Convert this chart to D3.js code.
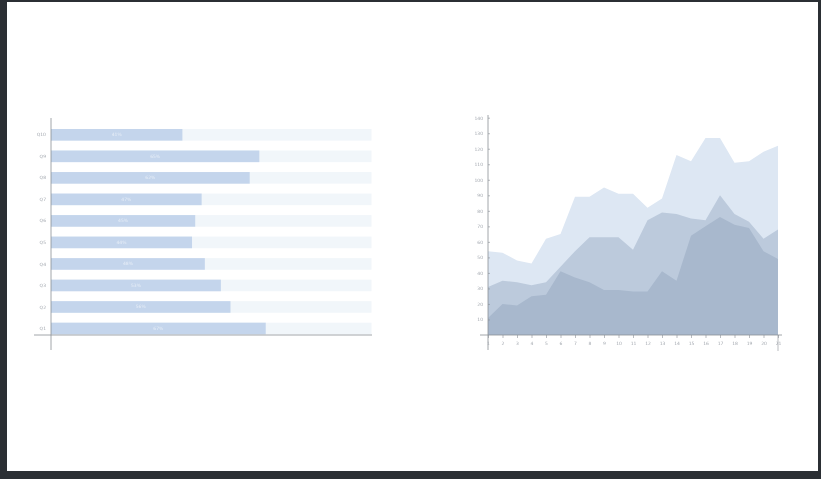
<!DOCTYPE html>
<html>
<head>
<meta charset="utf-8">
<script src="https://cdn.jsdelivr.net/npm/d3@7"></script>
<style>
  html, body { margin: 0; padding: 0; background: #2b2f34; }
  svg { display: block; filter: blur(0.4px); }
  text { font-family: "DejaVu Sans", sans-serif; }
</style>
</head>
<body>
<div id="chart"></div>
<script>
// bar chart data (top to bottom)
const barCategories = ["Q10", "Q9", "Q8", "Q7", "Q6", "Q5", "Q4", "Q3", "Q2", "Q1"];
const barValues = [41, 65, 62, 47, 45, 44, 48, 53, 56, 67];
const barMax = 100;

// area chart data
const areaLabels = ["1", "2", "3", "4", "5", "6", "7", "8", "9", "10", "11",
                    "12", "13", "14", "15", "16", "17", "18", "19", "20", "21"];
const seriesTop = [54, 53, 48, 46, 62, 65, 89, 89, 95, 91, 91, 82, 88, 116, 112, 127, 127, 111, 112, 118, 122];
const seriesMid = [31, 35, 34, 32, 34, 44, 54, 63, 63, 63, 55, 74, 79, 78, 75, 74, 90, 78, 73, 62, 68];
const seriesLow = [11, 20, 19, 25, 26, 41, 37, 34, 29, 29, 28, 28, 41, 35, 64, 70, 76, 71, 69, 54, 49];
const yTicks = [10, 20, 30, 40, 50, 60, 70, 80, 90, 100, 110, 120, 130, 140];

const W = 821, H = 479;
const svg = d3.select("#chart").append("svg")
    .attr("width", W)
    .attr("height", H);

// white sheet inside the dark frame
svg.append("rect")
    .attr("x", 7).attr("y", 2)
    .attr("width", 811).attr("height", 469)
    .attr("fill", "#ffffff");

const axisColor = "#8a8f96";
const labelColor = "#a4a9b0";

// ---------- bar chart ----------
const bx = d3.scaleLinear().domain([0, barMax]).range([51, 371.5]);
const by = d3.scaleBand()
    .domain(barCategories)
    .range([129, 334.3])
    .paddingInner(0.46)
    .paddingOuter(0);

const barG = svg.append("g");

barG.selectAll(".track")
    .data(barCategories)
    .enter()
    .append("rect")
    .attr("x", bx(0))
    .attr("y", d => by(d))
    .attr("width", bx(barMax) - bx(0))
    .attr("height", by.bandwidth())
    .attr("fill", "#f1f6fa");

barG.selectAll(".bar")
    .data(barValues)
    .enter()
    .append("rect")
    .attr("x", bx(0))
    .attr("y", (d, i) => by(barCategories[i]))
    .attr("width", d => bx(d) - bx(0))
    .attr("height", by.bandwidth())
    .attr("fill", "#c4d5ec");

barG.selectAll(".val")
    .data(barValues)
    .enter()
    .append("text")
    .attr("x", d => (bx(d) + bx(0)) / 2)
    .attr("y", (d, i) => by(barCategories[i]) + by.bandwidth() / 2 + 1.5)
    .attr("text-anchor", "middle")
    .attr("font-size", "4.5px")
    .attr("fill", "#ffffff")
    .attr("fill-opacity", 0.6)
    .text(d => d + "%");

barG.selectAll(".cat")
    .data(barCategories)
    .enter()
    .append("text")
    .attr("x", 46)
    .attr("y", d => by(d) + by.bandwidth() / 2 + 1.6)
    .attr("text-anchor", "end")
    .attr("font-size", "4.5px")
    .attr("fill", labelColor)
    .text(d => d);

// axes lines, crossing with overshoot
barG.append("line")
    .attr("x1", 51).attr("x2", 51)
    .attr("y1", 118).attr("y2", 350)
    .attr("stroke", axisColor).attr("stroke-width", 0.8);
barG.append("line")
    .attr("x1", 34).attr("x2", 372)
    .attr("y1", 335).attr("y2", 335)
    .attr("stroke", axisColor).attr("stroke-width", 0.8);

// ---------- area chart ----------
const ax = d3.scalePoint().domain(areaLabels).range([488, 778]);
const ay = d3.scaleLinear().domain([0, 140]).range([335, 117.7]);

const area = d3.area()
    .x((d, i) => ax(areaLabels[i]))
    .y0(ay(0))
    .y1(d => ay(d));

const areaG = svg.append("g");
const layers = [
    { values: seriesTop, color: "#dde7f3" },
    { values: seriesMid, color: "#bccadc" },
    { values: seriesLow, color: "#a8b8cd" }
];
layers.forEach(l => {
    areaG.append("path")
        .datum(l.values)
        .attr("d", area)
        .attr("fill", l.color);
});

// y axis
const yAxis = areaG.append("g")
    .attr("transform", "translate(488,0)")
    .call(d3.axisLeft(ay).tickValues(yTicks).tickSize(-2).tickPadding(5));
yAxis.select(".domain").remove();
yAxis.selectAll("line").attr("stroke", axisColor).attr("stroke-width", 0.6);
yAxis.selectAll("text")
    .attr("font-size", "4.5px")
    .attr("fill", labelColor)
    .attr("font-family", "DejaVu Sans, sans-serif");

areaG.append("line")
    .attr("x1", 488).attr("x2", 488)
    .attr("y1", 115).attr("y2", 350)
    .attr("stroke", axisColor).attr("stroke-width", 0.8);

// x axis
const xAxis = areaG.append("g")
    .attr("transform", "translate(0,335)")
    .call(d3.axisBottom(ax).tickSize(3).tickPadding(4));
xAxis.select(".domain").remove();
xAxis.selectAll("line").attr("stroke", axisColor).attr("stroke-width", 0.6);
xAxis.selectAll("text")
    .attr("font-size", "4.5px")
    .attr("fill", labelColor)
    .attr("font-family", "DejaVu Sans, sans-serif");

areaG.append("line")
    .attr("x1", 480).attr("x2", 782)
    .attr("y1", 335).attr("y2", 335)
    .attr("stroke", axisColor).attr("stroke-width", 0.8);
areaG.append("line")
    .attr("x1", 778).attr("x2", 778)
    .attr("y1", 335).attr("y2", 351)
    .attr("stroke", axisColor).attr("stroke-width", 0.6);
</script>
</body>
</html>
